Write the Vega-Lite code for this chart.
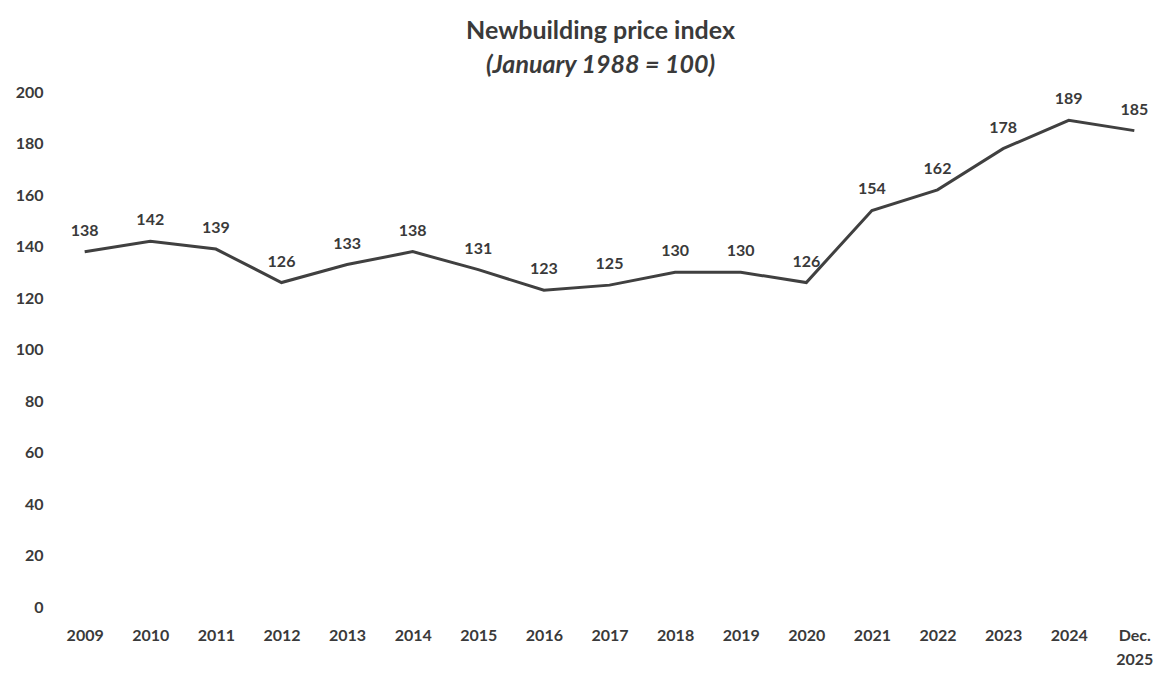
{
  "$schema": "https://vega.github.io/schema/vega-lite/v6.json",
  "width": 1089,
  "height": 515,
  "autosize": {"type": "none"},
  "padding": {"left": 65, "top": 92, "right": 3, "bottom": 72},
  "background": "white",
  "title": {
    "text": "Newbuilding price index",
    "subtitle": "(January 1988 = 100)",
    "font": "Lato",
    "fontSize": 25,
    "fontWeight": "bold",
    "color": "#3a3a3a",
    "subtitleFont": "Lato",
    "subtitleFontSize": 25,
    "subtitleFontWeight": "bold",
    "subtitleFontStyle": "italic",
    "subtitleColor": "#3a3a3a",
    "subtitlePadding": 9,
    "anchor": "middle",
    "offset": 6,
    "dx": -9
  },
  "data": {
    "values": [
      {"year": "2009", "index": 138},
      {"year": "2010", "index": 142},
      {"year": "2011", "index": 139},
      {"year": "2012", "index": 126},
      {"year": "2013", "index": 133},
      {"year": "2014", "index": 138},
      {"year": "2015", "index": 131},
      {"year": "2016", "index": 123},
      {"year": "2017", "index": 125},
      {"year": "2018", "index": 130},
      {"year": "2019", "index": 130},
      {"year": "2020", "index": 126},
      {"year": "2021", "index": 154},
      {"year": "2022", "index": 162},
      {"year": "2023", "index": 178},
      {"year": "2024", "index": 189},
      {"year": "Dec. 2025", "index": 185}
    ]
  },
  "encoding": {
    "x": {
      "field": "year",
      "type": "ordinal",
      "sort": null,
      "scale": {"type": "point", "padding": 0.3},
      "axis": {
        "title": null,
        "labelAngle": 0,
        "domain": false,
        "ticks": false,
        "labelPadding": 20,
        "labelFont": "Lato",
        "labelFontSize": 16,
        "labelFontWeight": "bold",
        "labelColor": "#3a3a3a",
        "labelBaseline": "top",
        "labelLineHeight": 24,
        "labelExpr": "datum.value == 'Dec. 2025' ? ['Dec.', '2025'] : datum.value"
      }
    },
    "y": {
      "field": "index",
      "type": "quantitative",
      "scale": {"domain": [0, 200], "nice": false},
      "axis": {
        "title": null,
        "values": [0, 20, 40, 60, 80, 100, 120, 140, 160, 180, 200],
        "domain": false,
        "ticks": false,
        "grid": false,
        "labelPadding": 22,
        "labelFont": "Lato",
        "labelFontSize": 16,
        "labelFontWeight": "bold",
        "labelColor": "#3a3a3a"
      }
    }
  },
  "layer": [
    {
      "mark": {"type": "line", "color": "#404040", "strokeWidth": 3}
    },
    {
      "mark": {
        "type": "text",
        "dy": -21,
        "font": "Lato",
        "fontSize": 16,
        "fontWeight": "bold",
        "color": "#3a3a3a"
      },
      "encoding": {"text": {"field": "index", "type": "quantitative"}}
    }
  ],
  "config": {"view": {"stroke": null}}
}
